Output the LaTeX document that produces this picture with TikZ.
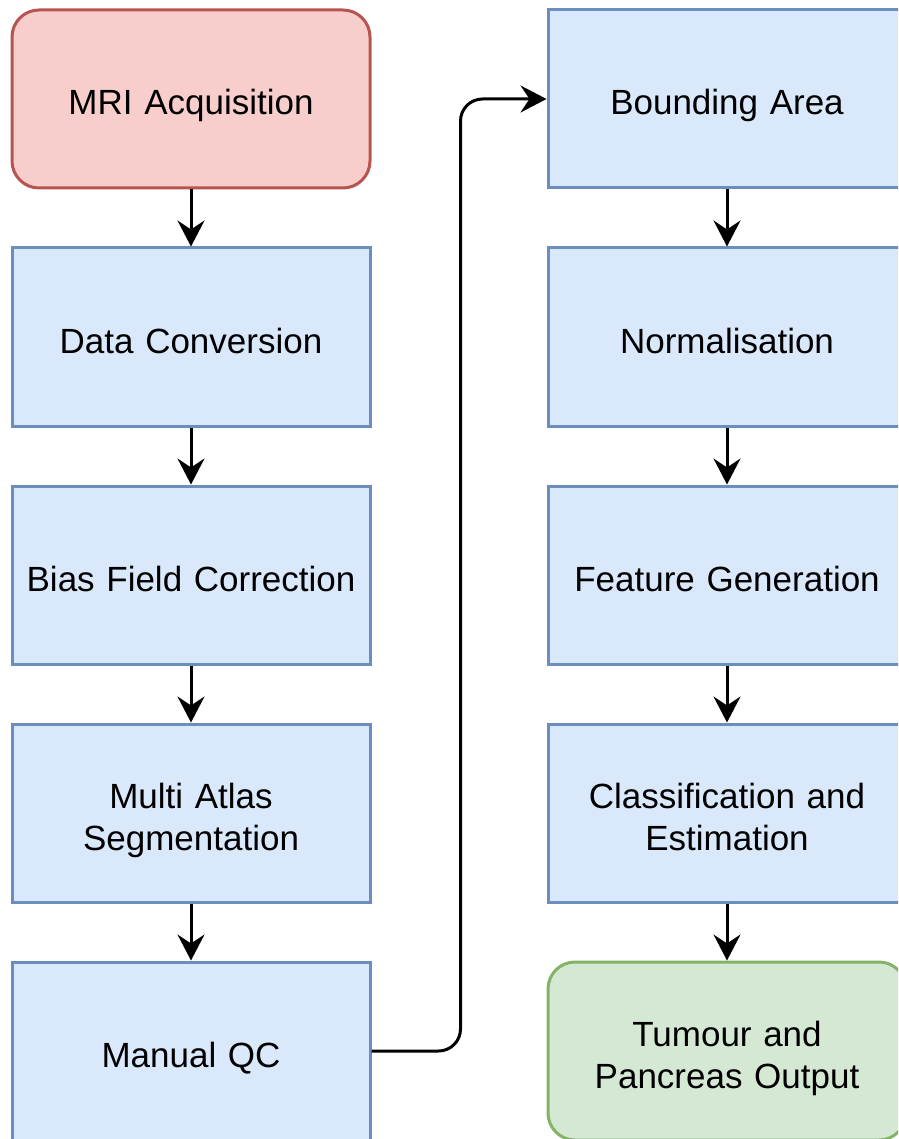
\documentclass[tikz,border=0pt]{standalone}
\usepackage{fontspec}
\setmainfont{Liberation Sans}
\usetikzlibrary{arrows.meta}
\definecolor{bfill}{HTML}{DAE8FC}
\definecolor{bdraw}{HTML}{6C8EBF}
\definecolor{rfill}{HTML}{F8CECC}
\definecolor{rdraw}{HTML}{B85450}
\definecolor{gfill}{HTML}{D5E8D4}
\definecolor{gdraw}{HTML}{82B366}
\tikzset{
  stepbox/.style={draw=bdraw, fill=bfill, line width=3pt, minimum width=358pt, minimum height=178pt,
    inner sep=0pt, align=center, font=\fontsize{35}{42}\selectfont, text width=340pt,
    text height=32pt, text depth=0pt},
  twoline/.style={text height=16pt, text depth=25pt},
  startbox/.style={stepbox, draw=rdraw, fill=rfill, rounded corners=27pt},
  endbox/.style={stepbox, draw=gdraw, fill=gfill, rounded corners=27pt},
  flow/.style={draw=black, line width=3pt, -{Stealth[length=26pt, width=27pt, inset=9pt]}},
}
\begin{document}
\begin{tikzpicture}[x=1pt, y=-1pt]
\path[use as bounding box, clip] (0,0) rectangle (898,1139);
\node[startbox] (mri) at (191,99) {MRI Acquisition};
\node[stepbox] (conv) at (191,337) {Data Conversion};
\node[stepbox] (bias) at (191,575) {Bias Field Correction};
\node[stepbox, twoline] (atlas) at (191,813) {Multi Atlas\\Segmentation};
\node[stepbox] (qc) at (191,1051) {Manual QC};
\node[stepbox] (bound) at (727,99) {Bounding Area};
\node[stepbox] (norm) at (727,337) {Normalisation};
\node[stepbox] (feat) at (727,575) {Feature Generation};
\node[stepbox, twoline] (class) at (727,813) {Classification and\\Estimation};
\node[endbox, twoline] (out) at (727,1051) {Tumour and\\Pancreas Output};
\draw[flow] (mri) -- (conv);
\draw[flow] (conv) -- (bias);
\draw[flow] (bias) -- (atlas);
\draw[flow] (atlas) -- (qc);
\draw[flow] (bound) -- (norm);
\draw[flow] (norm) -- (feat);
\draw[flow] (feat) -- (class);
\draw[flow] (class) -- (out);
\draw[flow, rounded corners=22pt] (qc.east) -- ++(89,0) |- (bound.west);
\end{tikzpicture}
\end{document}
